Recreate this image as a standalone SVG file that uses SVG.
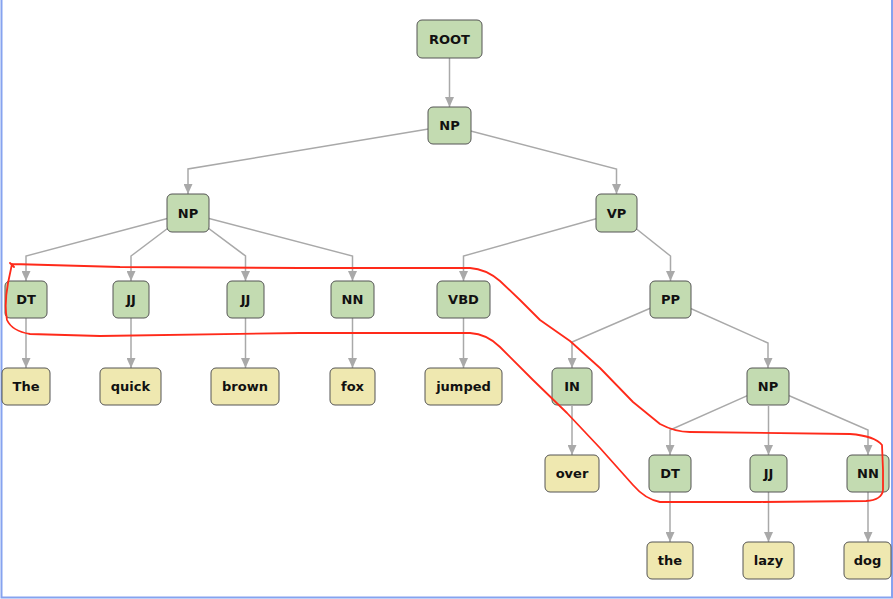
<svg xmlns="http://www.w3.org/2000/svg" width="893" height="599" viewBox="0 0 893 599">
  <style>
    .edge { fill: none; stroke: #a9a9a9; stroke-width: 1.5; marker-end: url(#arrow); }
    .box { stroke: #555; stroke-width: 1; }
    .tag .box { fill: #c3dbb1; }
    .word .box { fill: #efe8b0; }
    text { font-family: "DejaVu Sans", Verdana, sans-serif; font-size: 13px; font-weight: bold; fill: #111; text-anchor: middle; }
    .frame { fill: none; stroke: #86a3ef; stroke-width: 2; }
    .loop { fill: none; stroke: #ff2a1a; stroke-width: 1.8; stroke-linejoin: round; stroke-linecap: round; }
  </style>
  <defs>
    <marker id="arrow" viewBox="0 0 10 9" refX="10" refY="4.5" markerWidth="10" markerHeight="9" markerUnits="userSpaceOnUse" orient="auto">
      <path d="M0,0 L10,4.5 L0,9 z" fill="#a9a9a9"/>
    </marker>
  </defs>

  <rect width="893" height="599" fill="#fff"/>
  <path class="frame" d="M1.5,0 V597.5 H892 V0"/>

  <g id="connectors">
    <path class="edge" d="M449.5,58 V107"/>
    <path class="edge" d="M449.5,125.5 L188,169 V194"/>
    <path class="edge" d="M449.5,125.5 L616.5,169 V194"/>
    <path class="edge" d="M188,213 L26,256 V281"/>
    <path class="edge" d="M188,213 L131,256 V281"/>
    <path class="edge" d="M188,213 L245.5,256 V281"/>
    <path class="edge" d="M188,213 L352.5,256 V281"/>
    <path class="edge" d="M616.5,213 L463.5,256 V281"/>
    <path class="edge" d="M616.5,213 L670.5,256 V281"/>
    <path class="edge" d="M670.5,299.5 L572,342 V368"/>
    <path class="edge" d="M670.5,299.5 L768,343 V368"/>
    <path class="edge" d="M768,386.5 L670,430 V455"/>
    <path class="edge" d="M768.5,406 V455"/>
    <path class="edge" d="M768,386.5 L868,430 V455"/>
    <path class="edge" d="M26,318 V368"/>
    <path class="edge" d="M131,318 V368"/>
    <path class="edge" d="M245.5,318 V368"/>
    <path class="edge" d="M352.5,318 V368"/>
    <path class="edge" d="M463.5,318 V368"/>
    <path class="edge" d="M572,406 V455"/>
    <path class="edge" d="M670,492 V542"/>
    <path class="edge" d="M768.5,492 V542"/>
    <path class="edge" d="M868,492 V542"/>
  </g>

  <g id="n-root" class="tag"><rect class="box" x="417" y="20" width="65" height="38" rx="5"/><text x="449.5" y="43.5">ROOT</text></g>
  <g id="n-np0" class="tag"><rect class="box" x="428" y="107" width="43" height="37" rx="5"/><text x="449.5" y="130">NP</text></g>
  <g id="n-np1" class="tag"><rect class="box" x="167" y="194" width="42" height="38" rx="5"/><text x="188" y="217.5">NP</text></g>
  <g id="n-vp" class="tag"><rect class="box" x="596" y="194" width="41" height="38" rx="5"/><text x="616.5" y="217.5">VP</text></g>
  <g id="n-dt1" class="tag"><rect class="box" x="5" y="281" width="42" height="37" rx="5"/><text x="26" y="304">DT</text></g>
  <g id="n-jj1" class="tag"><rect class="box" x="113" y="281" width="36" height="37" rx="5"/><text x="131" y="304">JJ</text></g>
  <g id="n-jj2" class="tag"><rect class="box" x="227" y="281" width="37" height="37" rx="5"/><text x="245.5" y="304">JJ</text></g>
  <g id="n-nn1" class="tag"><rect class="box" x="331" y="281" width="43" height="37" rx="5"/><text x="352.5" y="304">NN</text></g>
  <g id="n-vbd" class="tag"><rect class="box" x="437" y="281" width="53" height="37" rx="5"/><text x="463.5" y="304">VBD</text></g>
  <g id="n-pp" class="tag"><rect class="box" x="650" y="281" width="41" height="37" rx="5"/><text x="670.5" y="304">PP</text></g>
  <g id="n-in" class="tag"><rect class="box" x="552" y="368" width="40" height="37" rx="5"/><text x="572" y="391">IN</text></g>
  <g id="n-np3" class="tag"><rect class="box" x="747" y="368" width="42" height="37" rx="5"/><text x="768" y="391">NP</text></g>
  <g id="n-dt2" class="tag"><rect class="box" x="649" y="455" width="42" height="37" rx="5"/><text x="670" y="478">DT</text></g>
  <g id="n-jj3" class="tag"><rect class="box" x="750" y="455" width="37" height="37" rx="5"/><text x="768.5" y="478">JJ</text></g>
  <g id="n-nn2" class="tag"><rect class="box" x="847" y="455" width="42" height="37" rx="5"/><text x="868" y="478">NN</text></g>

  <g id="w-the1" class="word"><rect class="box" x="2" y="368" width="48" height="37" rx="5"/><text x="26" y="391">The</text></g>
  <g id="w-quick" class="word"><rect class="box" x="100" y="368" width="61" height="37" rx="5"/><text x="130.5" y="391">quick</text></g>
  <g id="w-brown" class="word"><rect class="box" x="211" y="368" width="68" height="37" rx="5"/><text x="245" y="391">brown</text></g>
  <g id="w-fox" class="word"><rect class="box" x="330" y="368" width="45" height="37" rx="5"/><text x="352.5" y="391">fox</text></g>
  <g id="w-jumped" class="word"><rect class="box" x="425" y="368" width="77" height="37" rx="5"/><text x="463.5" y="391">jumped</text></g>
  <g id="w-over" class="word"><rect class="box" x="545" y="455" width="54" height="37" rx="5"/><text x="572" y="478">over</text></g>
  <g id="w-the2" class="word"><rect class="box" x="647" y="542" width="46" height="37" rx="5"/><text x="670" y="565">the</text></g>
  <g id="w-lazy" class="word"><rect class="box" x="743" y="542" width="51" height="37" rx="5"/><text x="768.5" y="565">lazy</text></g>
  <g id="w-dog" class="word"><rect class="box" x="844" y="542" width="47" height="37" rx="5"/><text x="867.5" y="565">dog</text></g>

  <!-- freehand red outline around the tagged span -->
  <path class="loop" d="M10,263 L14,267 M12,264 L120,267 L300,268 L470,268 Q486,269 500,281 L520,300 L540,320 L570,341 L600,368 L633,402 L660,424 Q675,432 690,432 L850,434 Q875,436 882,445 L883,470 L883,490 Q882,500 866,501 L760,502 L660,502 Q645,499 633,485 L600,448 L567,413 L533,380 L500,347 Q487,334 470,333 L300,333 L100,336 L30,334 Q12,331 7,320 Q4,305 8,283 L12,264"/>
</svg>
